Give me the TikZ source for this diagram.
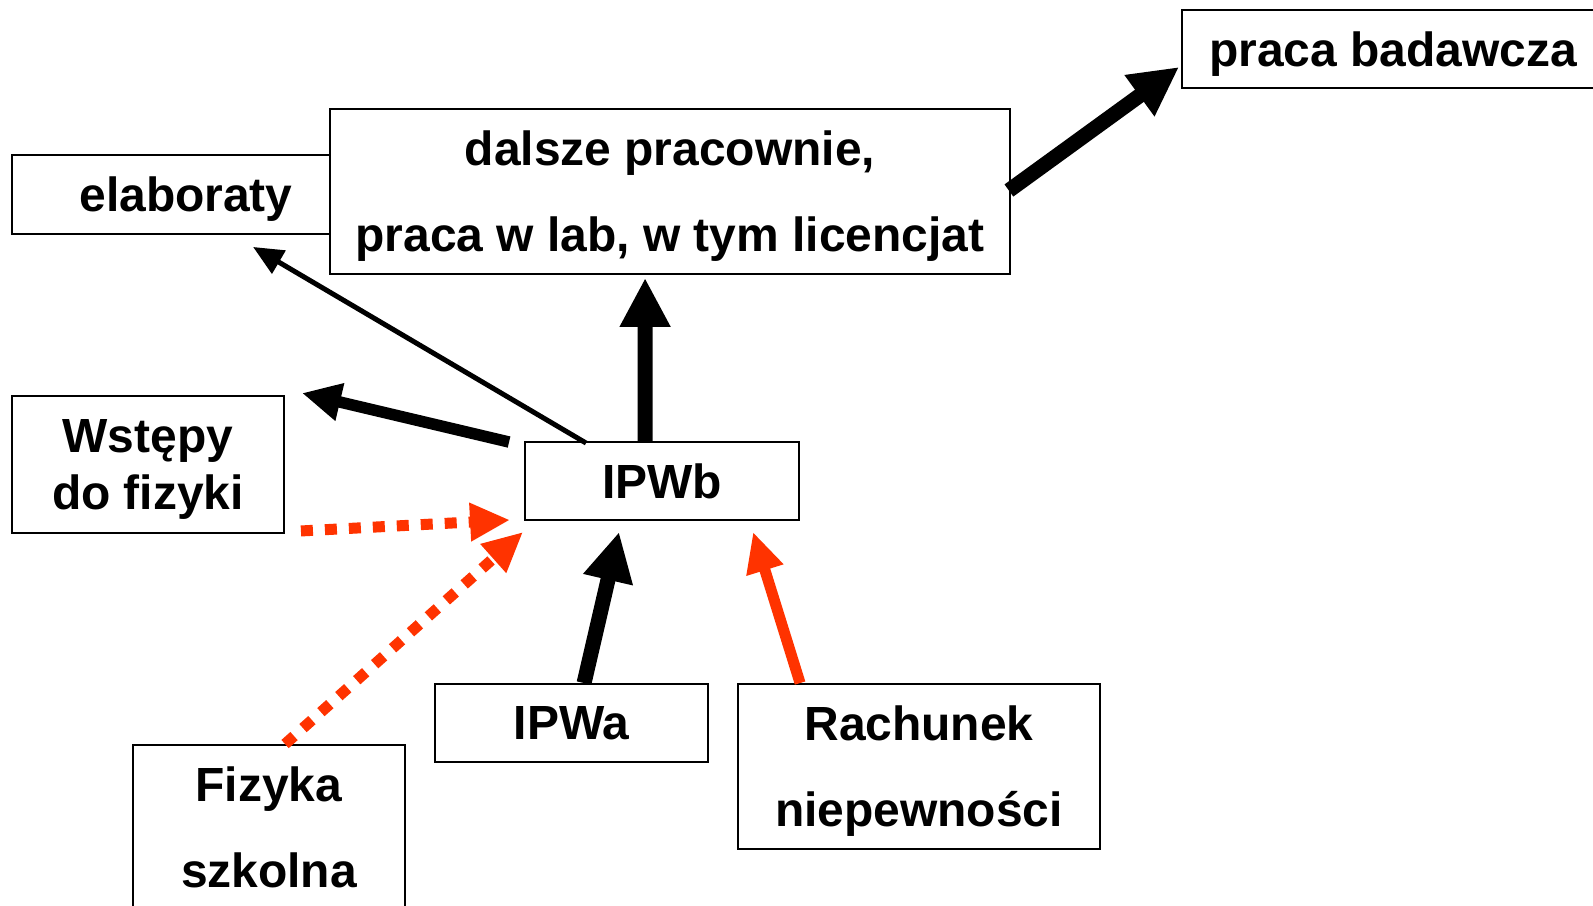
\documentclass[tikz,border=0pt]{standalone}
\usepackage{fontspec}
\setmainfont{Liberation Sans}
\usetikzlibrary{arrows.meta, calc}
\definecolor{orangered}{RGB}{255,51,0}
\tikzstyle{box} = [rectangle, inner sep=0pt, text centered, align=center, text depth=0pt, draw=black, fill=white, line width=1.1pt, font=\bfseries\fontsize{27.3}{32}\selectfont]
\tikzstyle{thinarrow} = [line width=0.1cm, -{Triangle[length=0.6cm, width=0.52cm]}]
\tikzstyle{arrow} = [line width=0.23cm, -{Triangle[length=0.78cm, width=0.72cm]}]
\tikzstyle{bigarrow} = [line width=0.3cm, -{Triangle[length=0.98cm, width=0.95cm]}]
\tikzstyle{redarrow} = [orangered, line width=0.22cm, -{Triangle[length=0.8cm, width=0.72cm]}]
\tikzstyle{dotarrow} = [redarrow, dash pattern=on 0.24cm off 0.24cm]

\begin{document}
\begin{tikzpicture}[x=0.02cm, y=-0.02cm]
\useasboundingbox (0,0) rectangle (1593,906);

\node (elab) [box, minimum width=6.96cm, minimum height=1.58cm] at (186,194.5) {elaboraty};
\node (dalsze) [box, minimum width=13.6cm, minimum height=3.3cm] at (670,191.5) {dalsze pracownie,\\[17pt] praca w lab, w tym licencjat};
\node (praca) [box, minimum width=8.44cm, minimum height=1.56cm] at (1393,49) {praca badawcza};

\node (wstepy) [box, minimum width=5.44cm, minimum height=2.74cm] at (148,464.5) {Wstępy\\do fizyki};
\node (IPWb) [box, minimum width=5.48cm, minimum height=1.56cm] at (662,481) {IPWb};

\node (IPWa) [box, minimum width=5.46cm, minimum height=1.56cm] at (571.5,723) {IPWa};
\node (rach) [box, minimum width=7.24cm, minimum height=3.3cm] at (919,766.5) {Rachunek\\[17pt] niepewności};
\node (fiz) [box, minimum width=5.44cm, minimum height=3.3cm] at (269,827.5) {Fizyka\\[17pt] szkolna};

\draw [thinarrow] ($(IPWb.north west)+(62,2)$) -- ($(elab.south west)+(242,12)$);
\draw [arrow] ($(IPWb.north west)+(-15,1)$) -- ($(wstepy.north east)+(17,-2)$);
\draw [bigarrow] ($(IPWb.north west)+(121,0)$) -- ($(dalsze.south west)+(316,3)$);
\draw [bigarrow] ($(dalsze.east)+(-2,-1)$) -- ($(praca.west)+(-2,18)$);

\draw [dotarrow] ($(wstepy.south east)+(16,-3)$) -- ($(IPWb.south west)+(-14,-1)$);
\draw [dotarrow] ($(fiz.north west)+(153,0)$) -- ($(IPWb.south west)+(-1,11)$);
\draw [bigarrow] ($(IPWa.north west)+(150,0)$) -- ($(IPWb.south west)+(95,11)$);
\draw [redarrow] ($(rach.north west)+(63,0)$) -- ($(IPWb.south west)+(229,11)$);

\end{tikzpicture}
\end{document}
